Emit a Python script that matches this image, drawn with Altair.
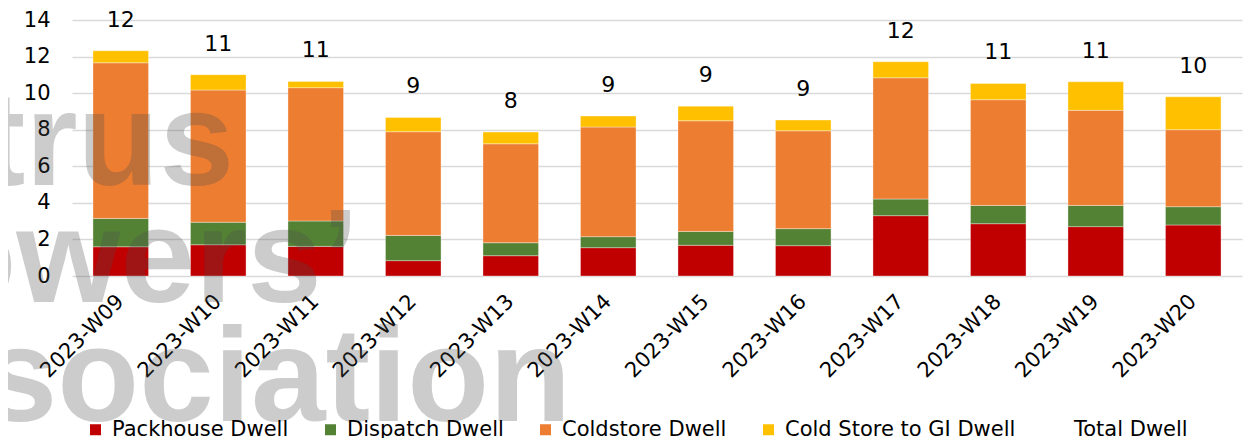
import altair as alt
import pandas as pd

weeks = ["2023-W09", "2023-W10", "2023-W11", "2023-W12", "2023-W13", "2023-W14",
         "2023-W15", "2023-W16", "2023-W17", "2023-W18", "2023-W19", "2023-W20"]
packhouse = [1.60, 1.71, 1.62, 0.84, 1.11, 1.55, 1.68, 1.66, 3.30, 2.86, 2.70, 2.79]
dispatch = [1.55, 1.23, 1.39, 1.38, 0.71, 0.60, 0.76, 0.93, 0.91, 1.00, 1.16, 1.00]
coldstore = [8.51, 7.23, 7.29, 5.67, 5.41, 6.00, 6.05, 5.35, 6.63, 5.78, 5.20, 4.21]
cs_to_gi = [0.66, 0.84, 0.34, 0.78, 0.64, 0.60, 0.80, 0.59, 0.88, 0.89, 1.56, 1.80]
total_dwell = [12.32, 11.01, 10.64, 8.67, 7.87, 8.75, 9.29, 8.53, 11.72, 10.53, 10.62, 9.80]
y_ticks = [0, 2, 4, 6, 8, 10, 12, 14]

series_names = ["Packhouse Dwell", "Dispatch Dwell", "Coldstore Dwell",
                "Cold Store to GI Dwell", "Total Dwell"]
series_colors = ["#C00000", "#548235", "#ED7D31", "#FFC000", "transparent"]
watermark_lines = ["Citrus", "Growers\u2019", "Association"]

rows = []
for i, w in enumerate(weeks):
    for k, vals in enumerate([packhouse, dispatch, coldstore, cs_to_gi]):
        rows.append({"week": w, "series": series_names[k], "idx": k, "value": vals[i]})
df = pd.DataFrame(rows)
tot = pd.DataFrame({"week": weeks, "total": total_dwell})

FONT = "DejaVu Sans"

x_axis = alt.Axis(labelAngle=-45, labelAlign="right", labelBaseline="middle",
                  labelFontSize=21, labelFont=FONT, labelColor="#000000",
                  labelPadding=22, ticks=False, domain=False, grid=False,
                  labelOverlap=False)
x_scale = alt.Scale(paddingInner=0.43, paddingOuter=0.215)
y_axis = alt.Axis(values=y_ticks, labelFontSize=21, labelFont=FONT,
                  labelColor="#000000", labelPadding=22, ticks=False, domain=False,
                  gridColor="#d9d9d9", gridWidth=1.5, labelOverlap=False)
y_scale = alt.Scale(domain=[0, 14], nice=False)

bars = alt.Chart(df).mark_bar(stroke="#ffffff", strokeWidth=0.6, strokeOpacity=0.6).encode(
    x=alt.X("week:N", sort=weeks, title=None, scale=x_scale, axis=x_axis),
    y=alt.Y("value:Q", stack="zero", title=None, scale=y_scale, axis=y_axis),
    color=alt.Color("series:N",
                    scale=alt.Scale(domain=series_names, range=series_colors),
                    legend=alt.Legend(title=None, orient="none", legendX=13, legendY=399,
                                      direction="horizontal", symbolType="square",
                                      symbolSize=121, symbolStrokeWidth=0,
                                      labelFontSize=21, labelFont=FONT,
                                      labelColor="#000000", labelOffset=6,
                                      columnPadding=31, labelLimit=400)),
    order=alt.Order("idx:Q", sort="ascending"),
)

labels = alt.Chart(tot).mark_text(fontSize=22, font=FONT, color="#000000",
                                  baseline="alphabetic", dy=-24).encode(
    x=alt.X("week:N", sort=weeks, title=None, scale=x_scale, axis=x_axis),
    y=alt.Y("total:Q", title=None, scale=y_scale, axis=y_axis),
    text=alt.Text("total:Q", format=".0f"),
)

wm_x = [162, 287, 499]
wm_y = [165, 282, 401]
wm_layers = []
for t, xx, yy in zip(watermark_lines, wm_x, wm_y):
    wm_layers.append(
        alt.Chart(tot).mark_text(text=t, font="Liberation Sans",
                                 fontWeight="bold", fontSize=134, align="right",
                                 baseline="alphabetic", color="#4c4c4c",
                                 opacity=0.28).encode(
            x=alt.value(xx), y=alt.value(yy))
        .transform_filter(alt.datum.week == weeks[0])
    )

border = alt.Chart(tot).mark_rule(color="#d9d9d9", strokeWidth=1.5).encode(
    x=alt.value(-67), y=alt.value(-20), y2=alt.value(430)
).transform_filter(alt.datum.week == weeks[0])

chart = alt.layer(bars, *wm_layers, labels, border).properties(
    width=1170, height=256,
    autosize=alt.AutoSizeParams(type="none"),
    padding={"left": 64, "top": 12, "right": 5, "bottom": 162},
).configure_view(stroke=None)

chart.save("out.html", embed_options={"renderer": "svg", "actions": False})
